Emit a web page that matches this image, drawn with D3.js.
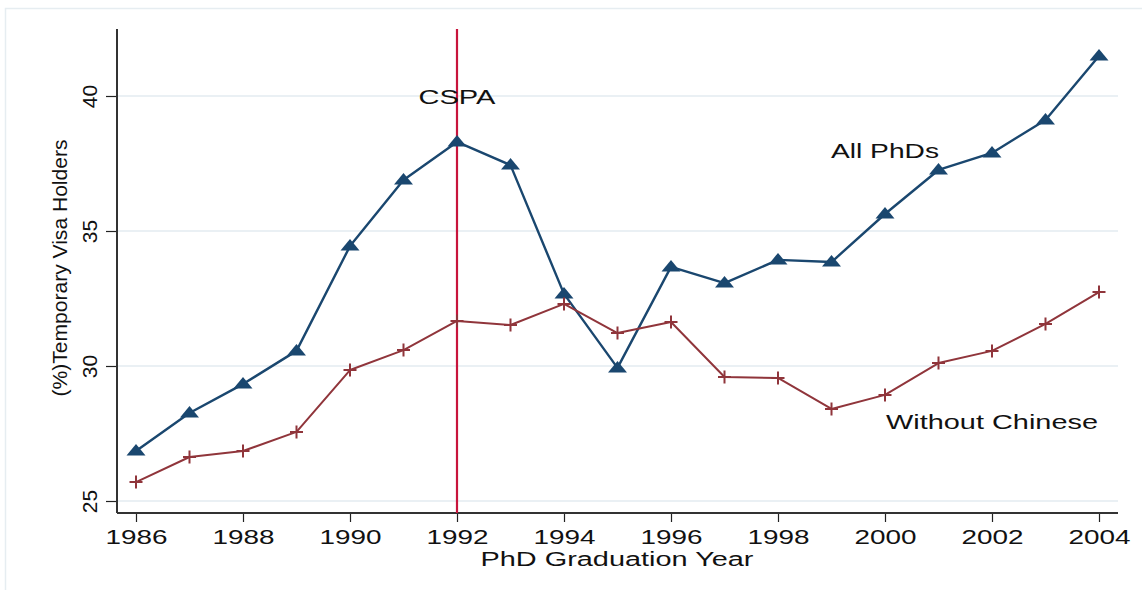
<!DOCTYPE html>
<html lang="en">
<head>
    <meta charset="UTF-8">
    <title>Temporary Visa Holders among PhDs</title>
    <script src="https://d3js.org/d3.v7.min.js"></script>
    <style>
        body {
            margin: 0;
            background: #fff;
            font-family: Arial, "Liberation Sans", sans-serif;
        }
        svg {
            display: block;
        }
        .tick text {
            font-family: Arial, "Liberation Sans", sans-serif;
        }
    </style>
</head>
<body>
    <div id="container"></div>

    <script>
        // Data
        const years = [1986, 1987, 1988, 1989, 1990, 1991, 1992, 1993, 1994, 1995,
                       1996, 1997, 1998, 1999, 2000, 2001, 2002, 2003, 2004];
        const allPhDs = [26.85, 28.26, 29.33, 30.56, 34.44, 36.89, 38.30, 37.44, 32.67, 29.93,
                         33.67, 33.07, 33.93, 33.85, 35.63, 37.26, 37.89, 39.11, 41.48];
        const withoutChinese = [25.70, 26.63, 26.85, 27.56, 29.85, 30.59, 31.67, 31.52, 32.30, 31.22,
                                31.63, 29.59, 29.56, 28.41, 28.93, 30.11, 30.56, 31.56, 32.74];
        const xTicks = [1986, 1988, 1990, 1992, 1994, 1996, 1998, 2000, 2002, 2004];
        const yTicks = [25, 30, 35, 40];
        const eventYear = 1992;
        const labels = [
            { text: 'CSPA', year: 1992, value: 39.70 },
            { text: 'All PhDs', year: 2000, value: 37.70 },
            { text: 'Without Chinese', year: 2002, value: 27.67 }
        ];

        const width = 1142;
        const height = 590;

        const svg = d3.select('#container')
            .append('svg')
            .attr('width', width)
            .attr('height', height);

        // outer frame (light)
        svg.append('rect')
            .attr('x', 5.5)
            .attr('y', 8.5)
            .attr('width', 1200)
            .attr('height', 700)
            .attr('fill', 'none')
            .attr('stroke', '#e6edf1')
            .attr('stroke-width', 1.5);

        // plot region
        const plotLeft = 117, plotRight = 1118, plotTop = 29, plotBottom = 513;

        const x = d3.scaleLinear()
            .domain([1986, 2004])
            .range([136, 1099]);

        const y = d3.scaleLinear()
            .domain([25, 40])
            .range([501, 96]);

        // gridlines
        svg.append('g')
            .selectAll('line')
            .data(yTicks)
            .enter()
            .append('line')
            .attr('x1', plotLeft)
            .attr('x2', plotRight)
            .attr('y1', d => y(d))
            .attr('y2', d => y(d))
            .attr('stroke', '#eaf0f4')
            .attr('stroke-width', 2);

        // y axis
        const yAxis = svg.append('g')
            .attr('transform', `translate(${plotLeft},0)`)
            .call(d3.axisLeft(y).tickValues(yTicks).tickSize(11).tickSizeOuter(0).tickFormat(d3.format('d')));
        yAxis.select('.domain').remove();
        yAxis.selectAll('.tick line').attr('stroke', '#222').attr('stroke-width', 1.2);
        yAxis.selectAll('.tick text')
            .attr('x', 0)
            .attr('y', 0)
            .attr('dy', 0)
            .attr('transform', 'translate(-20,0) rotate(-90)')
            .attr('text-anchor', 'middle')
            .attr('font-size', 21)
            .attr('fill', '#111');

        // x axis
        const xAxis = svg.append('g')
            .attr('transform', `translate(0,${plotBottom})`)
            .call(d3.axisBottom(x).tickValues(xTicks).tickSize(9).tickSizeOuter(0).tickFormat(d3.format('d')));
        xAxis.select('.domain').remove();
        xAxis.selectAll('.tick line').attr('stroke', '#222').attr('stroke-width', 1.2);
        xAxis.selectAll('.tick text')
            .attr('y', 31)
            .attr('dy', 0)
            .attr('font-size', 20)
            .attr('fill', '#111')
            .attr('textLength', 62)
            .attr('lengthAdjust', 'spacingAndGlyphs');

        // axis lines
        svg.append('line')
            .attr('x1', plotLeft).attr('x2', plotLeft)
            .attr('y1', plotTop).attr('y2', plotBottom)
            .attr('stroke', '#333').attr('stroke-width', 2);
        svg.append('line')
            .attr('x1', plotLeft).attr('x2', plotRight)
            .attr('y1', plotBottom).attr('y2', plotBottom)
            .attr('stroke', '#333').attr('stroke-width', 2);

        // axis titles
        svg.append('text')
            .attr('transform', 'translate(67,268) rotate(-90)')
            .attr('text-anchor', 'middle')
            .attr('font-size', 21)
            .attr('fill', '#111')
            .attr('textLength', 257)
            .attr('lengthAdjust', 'spacingAndGlyphs')
            .text('(%)Temporary Visa Holders');

        svg.append('text')
            .attr('x', 617)
            .attr('y', 566)
            .attr('text-anchor', 'middle')
            .attr('font-size', 20)
            .attr('fill', '#111')
            .attr('textLength', 273)
            .attr('lengthAdjust', 'spacingAndGlyphs')
            .text('PhD Graduation Year');

        // CSPA vertical line
        svg.append('line')
            .attr('x1', x(eventYear)).attr('x2', x(eventYear))
            .attr('y1', plotTop).attr('y2', plotBottom)
            .attr('stroke', '#c8143c')
            .attr('stroke-width', 2.2);

        const series = [
            { name: 'all', values: allPhDs, color: '#1a476f', width: 2.4, marker: 'triangle' },
            { name: 'nochn', values: withoutChinese, color: '#90353b', width: 2, marker: 'plus' }
        ];

        const line = d3.line()
            .x(d => x(d.year))
            .y(d => y(d.value));

        series.forEach(s => {
            const pts = years.map((yr, i) => ({ year: yr, value: s.values[i] }));

            svg.append('path')
                .datum(pts)
                .attr('d', line)
                .attr('fill', 'none')
                .attr('stroke', s.color)
                .attr('stroke-width', s.width)
                .attr('stroke-linejoin', 'round');

            const marks = svg.append('g')
                .selectAll('path')
                .data(pts)
                .enter()
                .append('path')
                .attr('transform', d => `translate(${x(d.year)},${y(d.value)})`);

            if (s.marker === 'triangle') {
                marks.attr('d', 'M0,-7L9.5,4.5L-9.5,4.5Z')
                    .attr('fill', s.color);
            } else {
                marks.attr('d', 'M-6.5,0H6.5M0,-6.5V6.5')
                    .attr('fill', 'none')
                    .attr('stroke', s.color)
                    .attr('stroke-width', 2);
            }
        });

        // text annotations
        const labelWidths = { 'CSPA': 77, 'All PhDs': 108, 'Without Chinese': 212 };
        svg.append('g')
            .selectAll('text')
            .data(labels)
            .enter()
            .append('text')
            .attr('x', d => x(d.year))
            .attr('y', d => y(d.value))
            .attr('text-anchor', 'middle')
            .attr('font-size', 21)
            .attr('fill', '#111')
            .attr('textLength', d => labelWidths[d.text])
            .attr('lengthAdjust', 'spacingAndGlyphs')
            .text(d => d.text);
    </script>
</body>
</html>
